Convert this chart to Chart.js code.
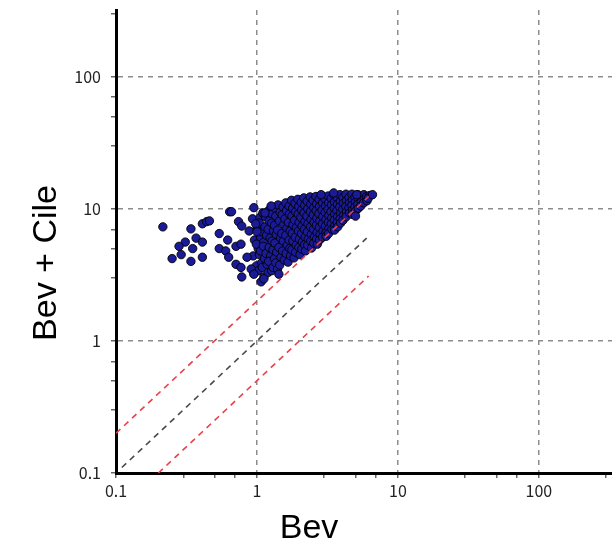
<!DOCTYPE html>
<html>
<head>
<meta charset="utf-8">
<script src="https://cdn.jsdelivr.net/npm/chart.js@4/dist/chart.umd.min.js"></script>
<style>
  html, body { margin: 0; padding: 0; background: #fff; }
  #wrap { width: 612px; height: 551px; }
</style>
</head>
<body>
<div id="wrap"><canvas id="chart"></canvas></div>
<script>
// ---------------- datos ----------------

// ticks de los ejes (log)
const tickValues = [0.1, 0.3, 0.5, 0.7, 1, 3, 5, 7, 10, 30, 50, 70, 100, 300]
const tickLabels = ['0.1', '1', '10', '100']

// puntos sueltos a la izquierda / bordes del grupo  [Bev, Bev + Cile]
const outlierPoints = [
  [0.215, 7.3], [0.34, 7.05], [0.41, 7.7], [0.44, 8.0], [0.46, 8.1],
  [0.64, 9.5], [0.66, 9.5], [0.95, 10.2], [1.14, 9.3],
  [0.31, 5.6], [0.28, 5.2], [0.37, 6.0], [0.41, 5.6], [0.35, 5.0],
  [0.25, 4.2], [0.29, 4.5], [0.34, 4.0], [0.41, 4.3],
  [0.54, 6.5], [0.62, 5.8], [0.54, 5.0], [0.60, 4.8], [0.71, 5.2], [0.63, 4.3], [0.77, 5.4],
  [0.74, 8.0], [0.78, 7.4], [0.88, 6.8],
  [0.71, 3.8], [0.77, 3.6], [0.78, 3.05], [0.98, 7.7], [1.0, 6.7],
  [0.85, 4.3], [0.91, 3.5], [1.07, 2.8], [0.95, 3.2], [1.12, 2.95], [1.43, 3.2],
  [1.26, 10.5], [2.85, 12.8], [3.5, 13.2], [5.1, 12.8], [6.6, 12.8], [5.0, 8.8]
]

// nube principal
const corePoints = [
  [0.93, 8.4], [1.0, 7.1], [0.96, 5.8], [1.02, 5.0], [0.94, 4.4], [0.99, 3.7], [0.95, 3.25],
  [1.05, 8.6], [1.01, 7.4], [1.06, 6.1], [0.99, 5.4], [1.04, 4.5], [1.08, 3.9], [1.02, 3.4],
  [1.1, 9.3], [1.04, 7.8], [1.09, 6.7], [1.12, 5.6], [1.06, 4.8], [1.13, 4.2], [1.09, 3.6], [1.12, 3.05],
  [1.15, 8.7], [1.14, 7.3], [1.17, 6.3], [1.11, 5.2], [1.16, 4.6], [1.18, 3.8], [1.2, 3.3],
  [1.21, 9.7], [1.22, 8.1], [1.2, 7.0], [1.24, 6.0], [1.22, 5.1], [1.25, 4.4], [1.21, 4.0], [1.27, 3.4],
  [1.28, 9.2], [1.27, 7.8], [1.31, 6.8], [1.28, 5.7], [1.3, 4.9], [1.33, 4.2], [1.3, 3.6],
  [1.34, 10.1], [1.36, 8.8], [1.33, 7.5], [1.37, 6.4], [1.34, 5.5], [1.38, 4.7], [1.36, 3.9], [1.4, 3.5],
  [1.41, 10.7], [1.46, 9.4], [1.44, 8.1], [1.4, 6.9], [1.47, 6.0], [1.43, 5.1], [1.48, 4.3], [1.45, 3.75],
  [1.53, 10.3], [1.51, 9.0], [1.55, 7.6], [1.5, 6.5], [1.54, 5.7], [1.52, 4.8], [1.56, 4.1],
  [1.6, 11.1], [1.62, 9.7], [1.58, 8.4], [1.63, 7.1], [1.6, 6.3], [1.64, 5.3], [1.61, 4.6], [1.66, 3.95],
  [1.69, 10.5], [1.7, 9.1], [1.67, 7.9], [1.72, 6.8], [1.69, 5.8], [1.71, 5.0], [1.73, 4.4],
  [1.76, 11.6], [1.79, 10.1], [1.77, 8.8], [1.8, 7.6], [1.78, 6.5], [1.8, 5.7], [1.77, 4.9], [1.83, 4.25],
  [1.86, 11.0], [1.88, 9.5], [1.85, 8.2], [1.9, 7.2], [1.87, 6.1], [1.9, 5.3], [1.88, 4.7],
  [1.95, 11.8], [1.98, 10.4], [1.96, 9.1], [1.99, 7.9], [1.97, 6.8], [2.0, 5.9], [1.98, 5.1], [2.02, 4.5],
  [2.06, 11.2], [2.08, 9.8], [2.05, 8.6], [2.09, 7.4], [2.07, 6.5], [2.1, 5.6], [2.08, 4.95],
  [2.15, 12.1], [2.18, 10.6], [2.16, 9.3], [2.19, 8.0], [2.17, 7.0], [2.2, 6.1], [2.18, 5.35], [2.21, 4.8],
  [2.27, 11.4], [2.29, 10.0], [2.26, 8.8], [2.3, 7.7], [2.28, 6.7], [2.31, 5.9], [2.29, 5.3],
  [2.38, 12.3], [2.41, 10.8], [2.39, 9.5], [2.42, 8.3], [2.4, 7.3], [2.43, 6.4], [2.41, 5.7], [2.44, 5.05],
  [2.5, 11.6], [2.53, 10.2], [2.51, 9.0], [2.54, 7.9], [2.52, 7.0], [2.55, 6.1], [2.53, 5.5],
  [2.62, 12.4], [2.65, 10.9], [2.63, 9.7], [2.66, 8.5], [2.64, 7.5], [2.67, 6.6], [2.65, 5.9], [2.68, 5.4],
  [2.76, 11.8], [2.78, 10.4], [2.75, 9.2], [2.79, 8.1], [2.77, 7.2], [2.8, 6.4], [2.78, 5.8],
  [2.89, 12.6], [2.92, 11.1], [2.9, 9.8], [2.93, 8.7], [2.91, 7.7], [2.94, 6.8], [2.92, 6.1],
  [3.04, 11.9], [3.07, 10.5], [3.05, 9.4], [3.08, 8.3], [3.06, 7.4], [3.09, 6.6], [3.1, 6.2],
  [3.2, 12.5], [3.22, 11.1], [3.19, 9.9], [3.23, 8.9], [3.21, 7.9], [3.24, 7.1], [3.22, 6.5],
  [3.36, 12.0], [3.38, 10.7], [3.35, 9.5], [3.39, 8.5], [3.37, 7.7], [3.4, 7.0],
  [3.52, 12.7], [3.55, 11.3], [3.53, 10.1], [3.56, 9.1], [3.54, 8.2], [3.57, 7.4], [3.55, 6.9],
  [3.7, 12.1], [3.72, 10.8], [3.69, 9.7], [3.73, 8.7], [3.71, 7.9], [3.74, 7.3],
  [3.88, 12.8], [3.9, 11.4], [3.87, 10.3], [3.91, 9.3], [3.89, 8.4], [3.92, 7.8],
  [4.07, 12.2], [4.1, 11.0], [4.06, 9.9], [4.11, 8.9], [4.08, 8.2],
  [4.28, 12.9], [4.31, 11.5], [4.27, 10.4], [4.32, 9.5], [4.29, 8.7],
  [4.5, 12.2], [4.53, 11.1], [4.49, 10.1], [4.54, 9.3],
  [4.72, 12.9], [4.75, 11.6], [4.71, 10.6], [4.76, 9.8], [4.73, 9.1],
  [4.96, 12.3], [4.99, 11.2], [4.95, 10.3], [5.0, 9.6],
  [5.2, 12.8], [5.23, 11.7], [5.19, 10.8], [5.24, 10.1],
  [5.46, 12.3], [5.49, 11.3], [5.45, 10.5],
  [5.73, 12.8], [5.76, 11.8], [5.72, 11.1],
  [6.0, 12.4], [6.03, 11.5],
  [6.3, 12.6], [6.15, 12.0]
]

// lineas de referencia (y = x, y = 2x, y = x/2)
const lineEqualX = [0.11, 6.0]
const lineEqualY = [0.11, 6.0]
const lineDoubleX = [0.1, 6.2]
const lineDoubleY = [0.2, 12.4]
const lineHalfX = [0.2, 6.2]
const lineHalfY = [0.1, 3.1]

// ----------------------------------------------------------

const toXY = (xs, ys) => xs.map((x, i) => ({ x: x, y: ys[i] }))
const pairsToXY = (pairs) => pairs.map(p => ({ x: p[0], y: p[1] }))

const isMajor = (v) => Math.abs(Math.log10(v) - Math.round(Math.log10(v))) < 1e-6

const tickFont = { family: 'Noto Sans CJK JP', size: 16 }

function axisCommon(min, max) {
  return {
    type: 'logarithmic',
    min: min,
    max: max,
    afterBuildTicks: (scale) => {
      scale.ticks = tickValues.filter(v => v >= min && v <= max).map(v => ({ value: v, major: isMajor(v) }))
    },
    ticks: {
      autoSkip: false,
      maxRotation: 0,
      color: '#222',
      font: tickFont,
      callback: (v) => {
        const lbl = String(v)
        return tickLabels.includes(lbl) ? lbl : ''
      }
    },
    grid: {
      color: (ctx) => (ctx.tick && isMajor(ctx.tick.value) && ctx.tick.value > min) ? '#8c8c8c' : 'rgba(0,0,0,0)',
      lineWidth: 1.5,
      tickColor: '#666',
      tickLength: 5,
      drawTicks: true
    },
    border: { display: true, color: '#000', width: 3, dash: [5, 5] }
  }
}

const xAxis = axisCommon(0.1, 330)
xAxis.ticks.padding = 3
xAxis.afterFit = (scale) => {
  scale.height = 78
  scale.paddingRight = 0
}

const yAxis = axisCommon(0.1, 320)
yAxis.ticks.padding = 10
yAxis.afterFit = (scale) => {
  scale.width = 116
  scale.paddingTop = 0
}

// titulos de los ejes dibujados a mano
const axisTitles = {
  id: 'axisTitles',
  afterDraw(chart) {
    const ctx = chart.ctx
    ctx.save()
    ctx.fillStyle = '#000'
    ctx.font = '34px "Liberation Sans", Arial, sans-serif'
    ctx.textAlign = 'center'
    ctx.textBaseline = 'middle'
    ctx.fillText('Bev', 309, 529)
    ctx.translate(47, 263)
    ctx.rotate(-Math.PI / 2)
    ctx.fillText('Bev + Cile', 0, 0)
    ctx.restore()
  }
}

const refLine = (xs, ys, color) => ({
  type: 'line',
  data: toXY(xs, ys),
  borderColor: color,
  borderWidth: 1.6,
  borderDash: [6, 5],
  pointRadius: 0,
  fill: false,
  order: 0
})

const dotStyle = {
  backgroundColor: '#1b1b98',
  borderColor: '#000',
  borderWidth: 0.9,
  pointRadius: 4.2,
  order: 1
}

new Chart(document.getElementById('chart'), {
  type: 'scatter',
  data: {
    datasets: [
      refLine(lineEqualX, lineEqualY, '#4a4a4a'),
      refLine(lineDoubleX, lineDoubleY, '#e8414a'),
      refLine(lineHalfX, lineHalfY, '#e8414a'),
      Object.assign({ data: pairsToXY(outlierPoints) }, dotStyle),
      Object.assign({ data: pairsToXY(corePoints) }, dotStyle)
    ]
  },
  options: {
    responsive: true,
    maintainAspectRatio: false,
    animation: false,
    layout: { autoPadding: false, padding: { top: 10, right: 0, left: 0, bottom: 0 } },
    plugins: { legend: { display: false }, tooltip: { enabled: false } },
    scales: { x: xAxis, y: yAxis }
  },
  plugins: [axisTitles]
})
</script>
</body>
</html>
